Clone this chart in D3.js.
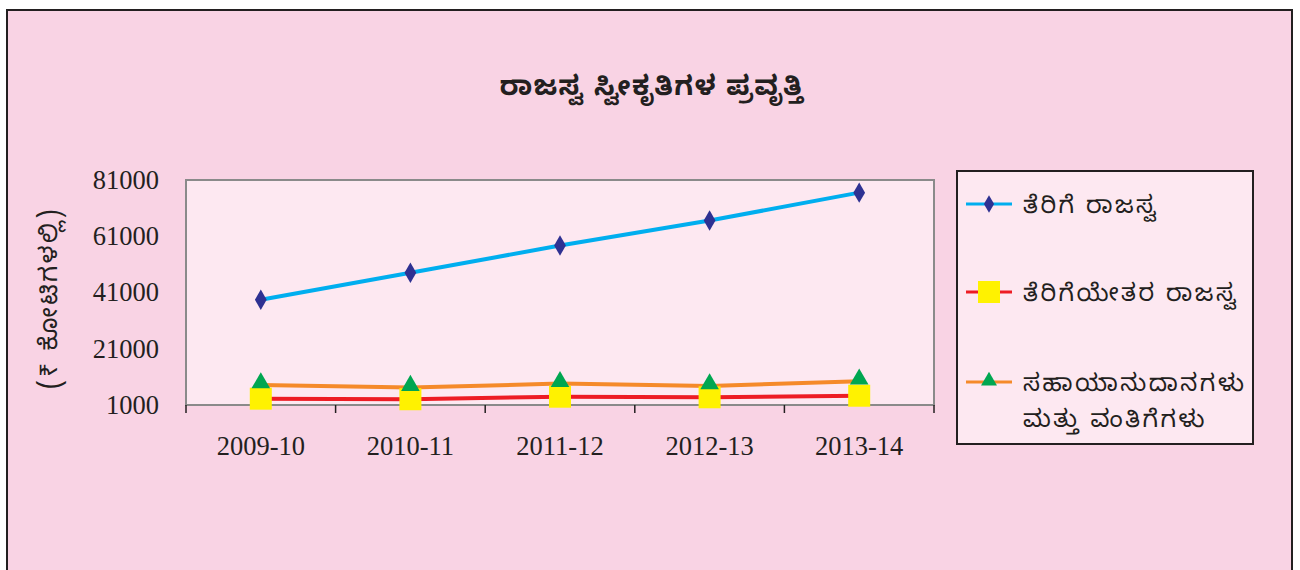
<!DOCTYPE html>
<html>
<head>
<meta charset="utf-8">
<script src="https://cdn.jsdelivr.net/npm/d3@7"></script>
<style>
  body { margin: 0; background: #ffffff; }
  .kn { font-family: "Noto Sans Kannada", "Lohit Kannada", "Tunga", "Noto Sans", sans-serif; }
</style>
</head>
<body>
<div id="chart"></div>
<script>
// data
const years = ["2009-10", "2010-11", "2011-12", "2012-13", "2013-14"];
const taxRevenue = [38400, 48000, 57700, 66600, 76500];
const nonTaxRevenue = [3250, 3050, 3950, 3750, 4300];
const grants = [8150, 7200, 8600, 7800, 9450];
const yTicks = [1000, 21000, 41000, 61000, 81000];
const seriesNames = ["ತೆರಿಗೆ ರಾಜಸ್ವ", "ತೆರಿಗೆಯೇತರ ರಾಜಸ್ವ", "ಸಹಾಯಾನುದಾನಗಳು ಮತ್ತು ವಂತಿಗೆಗಳು"];

const width = 1300, height = 570;

const svg = d3.select("#chart").append("svg")
    .attr("width", width)
    .attr("height", height);

// page background + frame
svg.append("rect")
    .attr("x", 7).attr("y", 10)
    .attr("width", 1285).attr("height", 570)
    .attr("fill", "#f9d3e4")
    .attr("stroke", "#231f20")
    .attr("stroke-width", 2);

// title
svg.append("text")
    .attr("class", "kn")
    .attr("x", 652).attr("y", 95)
    .attr("text-anchor", "middle")
    .style("font-size", "27px")
    .style("font-weight", "bold")
    .style("letter-spacing", "1.5px")
    .attr("fill", "#231f20")
    .text("ರಾಜಸ್ವ ಸ್ವೀಕೃತಿಗಳ ಪ್ರವೃತ್ತಿ");

// plot area
const plot = {left: 186, right: 934, top: 180, bottom: 405};

const x = d3.scaleBand()
    .domain(years)
    .range([plot.left, plot.right]);

const y = d3.scaleLinear()
    .domain([1000, 81000])
    .range([plot.bottom, plot.top]);

svg.append("rect")
    .attr("x", plot.left).attr("y", plot.top)
    .attr("width", plot.right - plot.left)
    .attr("height", plot.bottom - plot.top)
    .attr("fill", "#fde8f1")
    .attr("stroke", "#8a8a8a")
    .attr("stroke-width", 2);

// y axis labels
const yAxis = d3.axisLeft(y).tickValues(yTicks).tickSize(0).tickPadding(27).tickFormat(d3.format("d"));
const gy = svg.append("g")
    .attr("transform", `translate(${plot.left},0)`)
    .call(yAxis);
gy.select(".domain").remove();
gy.selectAll("text")
    .style("font-family", "'Liberation Serif', 'Times New Roman', serif")
    .style("font-size", "26.5px")
    .attr("fill", "#231f20");

// x axis
const xAxis = d3.axisBottom(x).tickSize(0).tickPadding(31);
const gx = svg.append("g")
    .attr("transform", `translate(0,${plot.bottom})`)
    .call(xAxis);
gx.select(".domain").remove();
gx.selectAll("text")
    .style("font-family", "'Liberation Serif', 'Times New Roman', serif")
    .style("font-size", "26.5px")
    .attr("fill", "#231f20");

svg.append("line")
    .attr("x1", plot.left).attr("x2", plot.right)
    .attr("y1", plot.bottom).attr("y2", plot.bottom)
    .attr("stroke", "#8a8a8a")
    .attr("stroke-width", 2);

// tick marks on category boundaries
const bounds = years.map(d => x(d)).concat([x(years[years.length - 1]) + x.bandwidth()]);
svg.selectAll(".xtick")
    .data(bounds)
    .enter().append("line")
    .attr("class", "xtick")
    .attr("x1", d => d).attr("x2", d => d)
    .attr("y1", plot.bottom).attr("y2", plot.bottom + 8)
    .attr("stroke", "#231f20")
    .attr("stroke-width", 1.5);

// y axis title
svg.append("text")
    .attr("class", "kn")
    .attr("transform", "translate(57,298) rotate(-90)")
    .attr("text-anchor", "middle")
    .style("font-size", "25px")
    .style("letter-spacing", "2.5px")
    .attr("fill", "#231f20")
    .text("(₹ ಕೋಟಿಗಳಲ್ಲಿ)");

const cx = d => x(d) + x.bandwidth() / 2;

const line = d3.line()
    .x((d, i) => cx(years[i]))
    .y(d => y(d));

// grants (orange, triangles)
svg.append("path")
    .datum(grants)
    .attr("d", line)
    .attr("fill", "none")
    .attr("stroke", "#f58a2a")
    .attr("stroke-width", 4);

// non-tax (red, squares)
svg.append("path")
    .datum(nonTaxRevenue)
    .attr("d", line)
    .attr("fill", "none")
    .attr("stroke", "#ed1c24")
    .attr("stroke-width", 4);

svg.selectAll(".sq")
    .data(nonTaxRevenue)
    .enter().append("rect")
    .attr("class", "sq")
    .attr("x", (d, i) => cx(years[i]) - 11)
    .attr("y", d => y(d) - 11)
    .attr("width", 22).attr("height", 22)
    .attr("fill", "#fff200");

const tri = d3.symbol().type(d3.symbolTriangle).size(150);
svg.selectAll(".tri")
    .data(grants)
    .enter().append("path")
    .attr("class", "tri")
    .attr("d", tri)
    .attr("transform", (d, i) => `translate(${cx(years[i])},${y(d) - 2})`)
    .attr("fill", "#00a651");

// tax revenue (blue, diamonds)
svg.append("path")
    .datum(taxRevenue)
    .attr("d", line)
    .attr("fill", "none")
    .attr("stroke", "#00aeef")
    .attr("stroke-width", 4);

const diamond = d3.symbol().type(d3.symbolDiamond).size(120);
svg.selectAll(".dia")
    .data(taxRevenue)
    .enter().append("path")
    .attr("class", "dia")
    .attr("d", diamond)
    .attr("transform", (d, i) => `translate(${cx(years[i])},${y(d)})`)
    .attr("fill", "#2e3192");

// legend
const legend = svg.append("g");
legend.append("rect")
    .attr("x", 957).attr("y", 171)
    .attr("width", 296).attr("height", 273)
    .attr("fill", "#fde8f1")
    .attr("stroke", "#231f20")
    .attr("stroke-width", 2);

const legendItems = [
    {name: seriesNames[0], color: "#00aeef", y: 204, mark: "diamond"},
    {name: seriesNames[1], color: "#ed1c24", y: 292, mark: "square"},
    {name: seriesNames[2], color: "#f58a2a", y: 382, mark: "triangle"}
];

legendItems.forEach(it => {
    legend.append("line")
        .attr("x1", 966).attr("x2", 1012)
        .attr("y1", it.y).attr("y2", it.y)
        .attr("stroke", it.color)
        .attr("stroke-width", 3);
    if (it.mark === "diamond") {
        legend.append("path").attr("d", d3.symbol().type(d3.symbolDiamond).size(90))
            .attr("transform", `translate(989,${it.y})`).attr("fill", "#2e3192");
    } else if (it.mark === "square") {
        legend.append("rect").attr("x", 978).attr("y", it.y - 11)
            .attr("width", 22).attr("height", 22).attr("fill", "#fff200");
    } else {
        legend.append("path").attr("d", d3.symbol().type(d3.symbolTriangle).size(110))
            .attr("transform", `translate(989,${it.y - 1})`).attr("fill", "#00a651");
    }
    const words = it.name.split(" ");
    const lines = it.mark === "triangle" ? [words[0], words.slice(1).join(" ")] : [it.name];
    lines.forEach((t, k) => {
        legend.append("text")
            .attr("class", "kn")
            .attr("x", 1023).attr("y", it.y + 9 + k * 36)
            .style("font-size", "24px")
            .style("letter-spacing", "2.5px")
            .attr("fill", "#231f20")
            .text(t);
    });
});
</script>
</body>
</html>
